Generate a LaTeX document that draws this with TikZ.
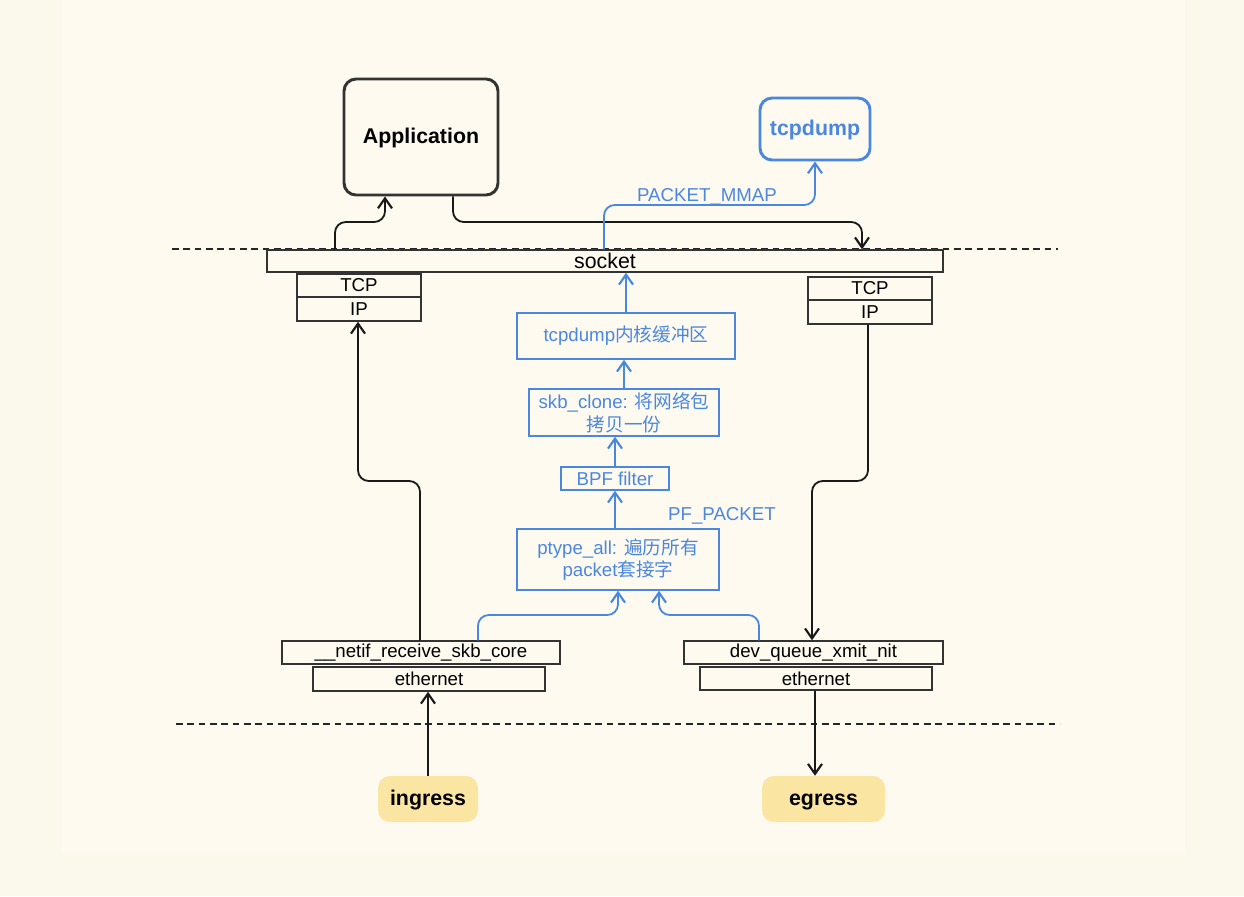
\documentclass[tikz,border=0pt]{standalone}
\usepackage{fontspec}
\setmainfont{Liberation Sans}
\newfontfamily\cjk{Noto Sans CJK SC}
\usetikzlibrary{arrows.meta}
\definecolor{bgout}{HTML}{FBF8EC}
\definecolor{bgin}{HTML}{FEFAEF}
\definecolor{boxc}{HTML}{333333}
\definecolor{bluec}{HTML}{4A88E0}
\definecolor{yelc}{HTML}{FAE6A2}
\newcommand\fsn{\fontsize{14}{17}\selectfont}
\newcommand\fss{\fontsize{16}{19}\selectfont}
\newcommand\fsb{\fontsize{16}{19}\selectfont\bfseries}
\tikzset{
  bx/.style={draw=boxc, line width=1.1pt, inner sep=0pt, font=\fsn, text=black},
  bbx/.style={draw=bluec, line width=1.1pt, inner sep=0pt, font=\fsn, text=bluec, align=center},
  bigbx/.style={draw=boxc, line width=2.2pt, rounded corners=9pt, inner sep=0pt, font=\fsb, text=black, text height=2ex, text depth=0.2ex},
  tdbx/.style={draw=bluec, line width=2.2pt, rounded corners=9pt, inner sep=0pt, font=\fsb, text=bluec, text height=2ex, text depth=0.2ex},
  ybx/.style={fill=yelc, rounded corners=9pt, inner sep=0pt, font=\fsb, text=black, text height=2ex, text depth=0.2ex},
  tip/.style={-{Straight Barb[length=7.5pt,width=10.5pt,line width=1.6pt]}},
  blk/.style={draw=black!90, line width=1.35pt, rounded corners=8pt, tip},
  blu/.style={draw=bluec, line width=1.35pt, rounded corners=8pt, tip},
  dashln/.style={draw=black!85, line width=1pt, dash pattern=on 5pt off 3.5pt},
}
\begin{document}
\begin{tikzpicture}[x=0.75pt,y=-0.75pt]
\useasboundingbox (0,0) rectangle (1244,896);
\fill[bgout] (0,0) rectangle (1244,896);
\fill[bgin] (62,0) rectangle (1185,853);

% dashed separators
\coordinate (d1a) at (172,249); \coordinate (d1b) at (1058,249);
\coordinate (d2a) at (176,724); \coordinate (d2b) at (1060,724);
\draw[dashln] (d1a) -- (d1b);
\draw[dashln] (d2a) -- (d2b);

% nodes
\node[bigbx, minimum width=115.5pt, minimum height=87pt] (app) at (421,137) {Application};
\node[tdbx, minimum width=82.5pt, minimum height=46.5pt] (tcpd) at (815,129) {tcpdump};
\node[bx, font=\fss, minimum width=507pt, minimum height=16.5pt] (socket) at (605,261) {socket};
\node[bx, minimum width=93pt, minimum height=17.25pt] (tcpL) at (359,285.5) {TCP};
\node[bx, minimum width=93pt, minimum height=18pt] (ipL) at (359,309) {IP};
\node[bx, minimum width=93pt, minimum height=17.25pt] (tcpR) at (870,288.5) {TCP};
\node[bx, minimum width=93pt, minimum height=18pt] (ipR) at (870,312) {IP};
\node[bbx, minimum width=163.5pt, minimum height=34.5pt] (buf) at (626,336) {tcpdump{\cjk 内核缓冲区}};
\node[bbx, minimum width=142.5pt, minimum height=35.25pt] (skb) at (624,412.5) {skb\_clone: {\cjk 将网络包}\\{\cjk 拷贝一份}};
\node[bbx, minimum width=81pt, minimum height=17.25pt] (bpf) at (615,478.5) {BPF filter};
\node[bbx, minimum width=151.5pt, minimum height=45.75pt] (ptype) at (618,559.5) {ptype\_all: {\cjk 遍历所有}\\packet{\cjk 套接字}};
\node[bx, minimum width=208.5pt, minimum height=17.25pt] (netif) at (421,652.5) {\_\_netif\_receive\_skb\_core};
\node[bx, minimum width=174pt, minimum height=18pt] (ethL) at (429,679) {ethernet};
\node[bx, minimum width=194.25pt, minimum height=17.25pt] (devq) at (813.5,652.5) {dev\_queue\_xmit\_nit};
\node[bx, minimum width=174pt, minimum height=17.25pt] (ethR) at (816,678.5) {ethernet};
\node[ybx, minimum width=75pt, minimum height=34.5pt] (ingress) at (428,799) {ingress};
\node[ybx, minimum width=92.25pt, minimum height=34.5pt] (egress) at (823.5,799) {egress};

% labels
\node[font=\fsn, text=bluec, anchor=south, inner sep=1pt] (mmap) at (707,207) {PACKET\_MMAP};
\node[font=\fsn, text=bluec, anchor=south, inner sep=1pt] (pfp) at (722,526) {PF\_PACKET};

% black connectors
\draw[blk] (335,0 |- socket.north) -- (335,222) -- (385,222) -- (385,0 |- app.south);
\draw[blk] (453,0 |- app.south) -- (453,222) -- (862,222) -- (862,0 |- socket.north);
\draw[blk] (420,0 |- netif.north) -- (420,481) -- (358,481) -- (358,0 |- ipL.south);
\draw[blk] (868,0 |- ipR.south) -- (868,481) -- (812,481) -- (812,0 |- devq.north);
\draw[blk] (428,0 |- ingress.north) -- (428,0 |- ethL.south);
\draw[blk] (815,0 |- ethR.south) -- (815,0 |- egress.north);

% blue connectors
\draw[blu] (604,0 |- socket.north) -- (604,205) -- (815,205) -- (815,0 |- tcpd.south);
\draw[blu] (buf.north) -- (buf.north |- socket.south);
\draw[blu] (skb.north) -- (skb.north |- buf.south);
\draw[blu] (bpf.north) -- (bpf.north |- skb.south);
\draw[blu] (bpf.south |- ptype.north) -- (bpf.south);
\draw[blu] (478,0 |- netif.north) -- (478,615) -- (618,615) -- (618,0 |- ptype.south);
\draw[blu] (759,0 |- devq.north) -- (759,615) -- (659,615) -- (659,0 |- ptype.south);
\end{tikzpicture}
\end{document}
